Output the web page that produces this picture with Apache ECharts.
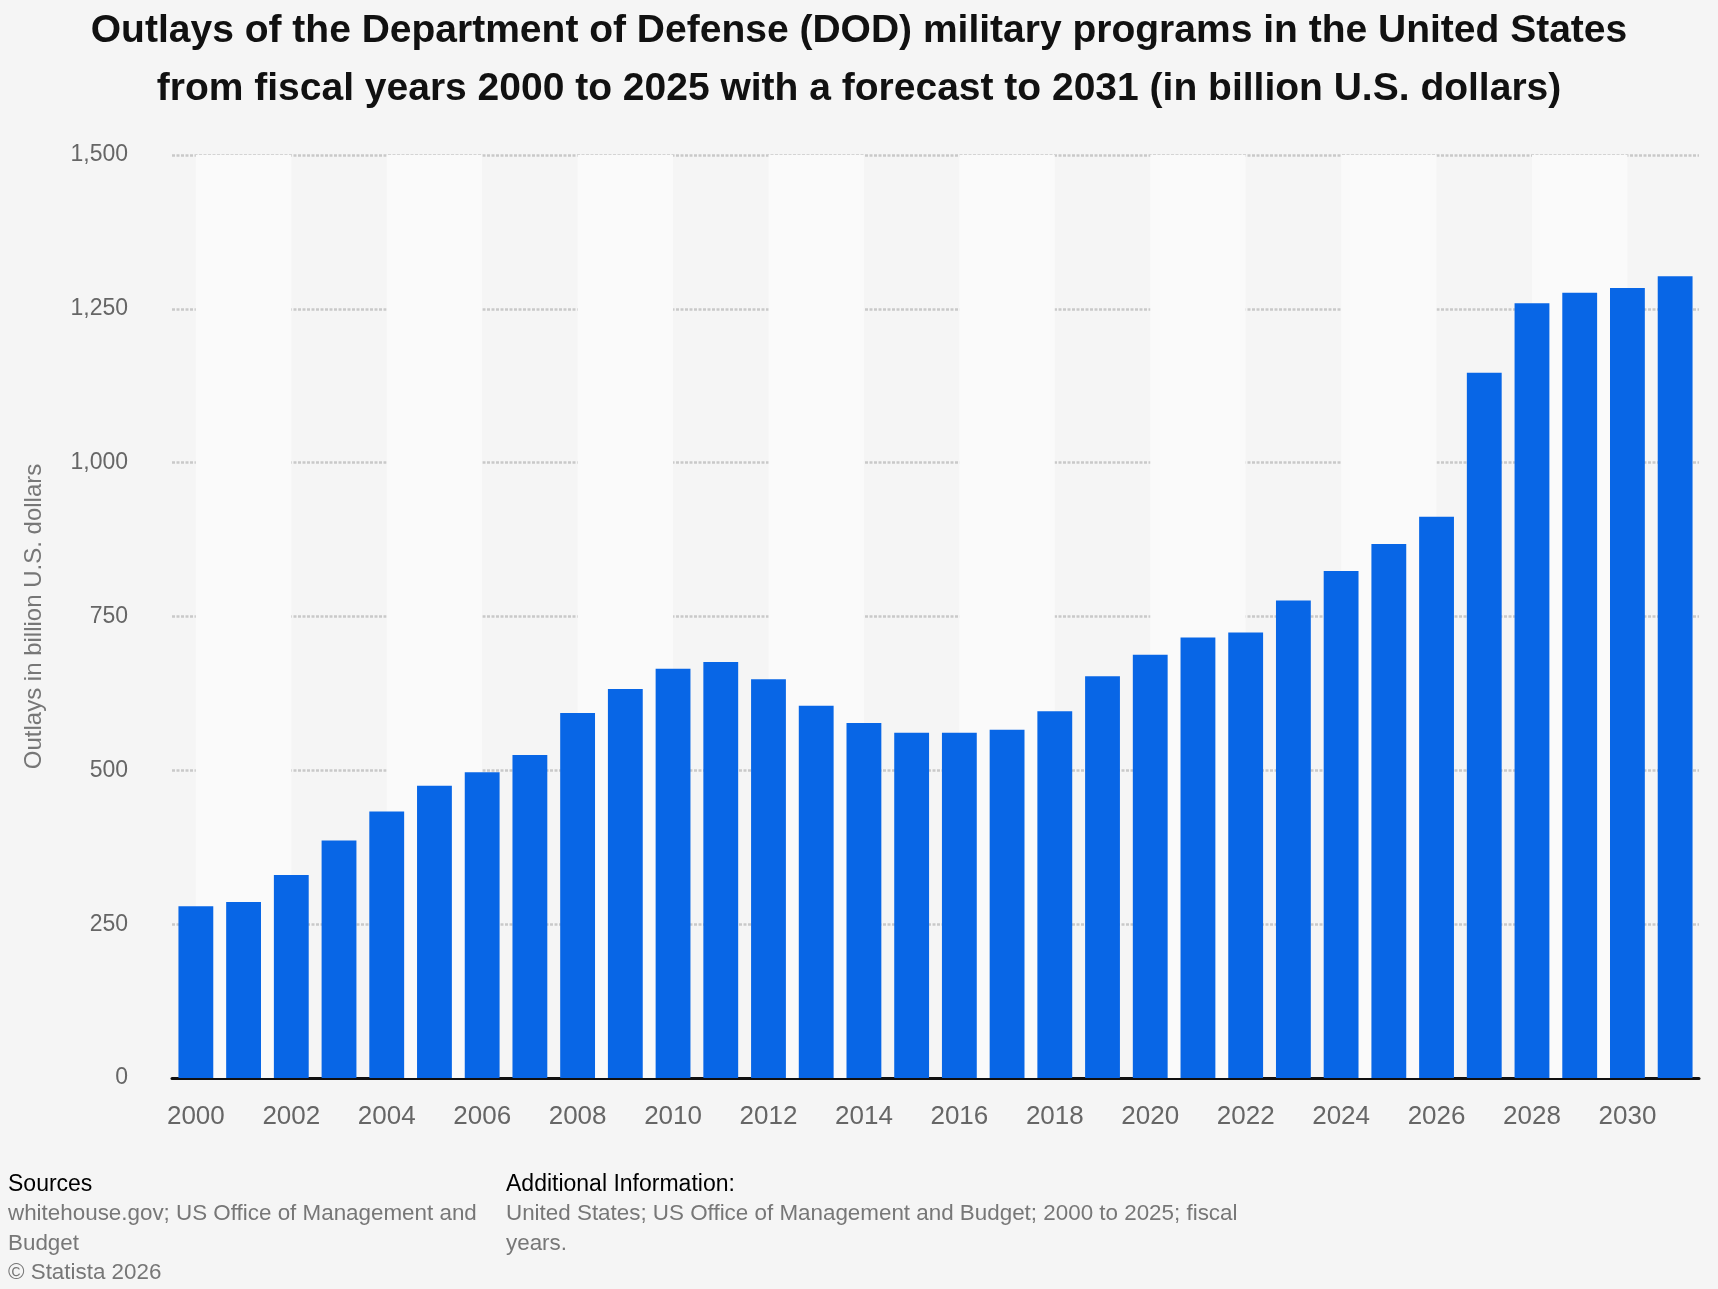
<!doctype html>
<html lang="en">
<head>
    <meta charset="UTF-8">
    <title>DOD military programs outlays</title>
    <script src="https://cdn.jsdelivr.net/npm/echarts@6/dist/echarts.min.js"></script>
    <style>
        html, body { margin: 0; padding: 0; background: #f5f5f5; }
        #chart { width: 1718px; height: 1289px; }
    </style>
</head>
<body>
<div id="chart"></div>
<script>
    // fiscal years and outlays (billion U.S. dollars)
    var years = ['2000', '2001', '2002', '2003', '2004', '2005', '2006', '2007', '2008', '2009',
        '2010', '2011', '2012', '2013', '2014', '2015', '2016', '2017', '2018', '2019',
        '2020', '2021', '2022', '2023', '2024', '2025', '2026', '2027', '2028', '2029',
        '2030', '2031'];
    var outlays = [279, 286, 330, 386, 433, 475, 497, 525, 593, 632,
        665, 676, 648, 605, 577, 561, 561, 566, 596, 653,
        688, 716, 724, 776, 824, 868, 912, 1146, 1259, 1276,
        1284, 1303];
    var yTicks = [0, 250, 500, 750, 1000, 1250, 1500];

    // lighter column bands: from 2000 to 2002, 2004 to 2006, ...
    var bands = [];
    for (var i = 0; i + 2 < years.length; i += 4) {
        bands.push([{ xAxis: years[i] }, { xAxis: years[i + 2] }]);
    }

    var chart = echarts.init(document.getElementById('chart'));
    var grey = '#777';
    var font = 'Liberation Sans, Arial, sans-serif';

    var option = {
        backgroundColor: '#f5f5f5',
        animation: false,
        textStyle: { fontFamily: font },
        title: {
            text: 'Outlays of the Department of Defense (DOD) military programs in the United States\n' +
                'from fiscal years 2000 to 2025 with a forecast to 2031 (in billion U.S. dollars)',
            left: 'center',
            top: 2,
            padding: 0,
            textStyle: {
                fontSize: 39,
                fontWeight: 'bold',
                color: '#111',
                lineHeight: 58
            }
        },
        grid: { left: 172, right: 19, top: 155, bottom: 211 },
        xAxis: {
            type: 'category',
            data: years,
            axisTick: { show: false },
            axisLine: { lineStyle: { color: '#111', width: 3 } },
            axisLabel: {
                interval: 1,
                margin: 26,
                fontSize: 26,
                color: '#666'
            }
        },
        yAxis: {
            type: 'value',
            min: yTicks[0],
            max: yTicks[yTicks.length - 1],
            interval: 250,
            name: 'Outlays in billion U.S. dollars',
            nameLocation: 'middle',
            nameGap: 126,
            nameTextStyle: { fontSize: 24, color: grey },
            axisLine: { show: false },
            axisTick: { show: false },
            axisLabel: {
                margin: 44,
                fontSize: 23,
                color: '#666',
                formatter: function (v) { return v.toLocaleString('en-US'); }
            },
            splitLine: {
                lineStyle: { color: '#c9c9c9', width: 2.5, type: [3, 1.5] }
            }
        },
        series: [{
            type: 'line',
            data: [],
            z: 0,
            silent: true,
            markArea: {
                silent: true,
                itemStyle: { color: '#fafafa' },
                data: bands
            }
        }, {
            name: 'Outlays',
            type: 'bar',
            data: outlays,
            z: 3,
            barCategoryGap: '27%',
            itemStyle: { color: '#0866e6' }
        }],
        graphic: [
            { type: 'text', left: 8, top: 1173, style: { text: 'Sources', fontSize: 23, fill: '#000', fontFamily: font } },
            { type: 'text', left: 8, top: 1203, style: { text: 'whitehouse.gov; US Office of Management and', fontSize: 22.4, fill: grey, fontFamily: font } },
            { type: 'text', left: 8, top: 1233, style: { text: 'Budget', fontSize: 22.4, fill: grey, fontFamily: font } },
            { type: 'text', left: 8, top: 1262, style: { text: '© Statista 2026', fontSize: 22.4, fill: grey, fontFamily: font } },
            { type: 'text', left: 506, top: 1173, style: { text: 'Additional Information:', fontSize: 23, fill: '#000', fontFamily: font } },
            { type: 'text', left: 506, top: 1203, style: { text: 'United States; US Office of Management and Budget; 2000 to 2025; fiscal', fontSize: 22.4, fill: grey, fontFamily: font } },
            { type: 'text', left: 506, top: 1233, style: { text: 'years.', fontSize: 22.4, fill: grey, fontFamily: font } }
        ]
    };
    chart.setOption(option);
</script>
</body>
</html>
